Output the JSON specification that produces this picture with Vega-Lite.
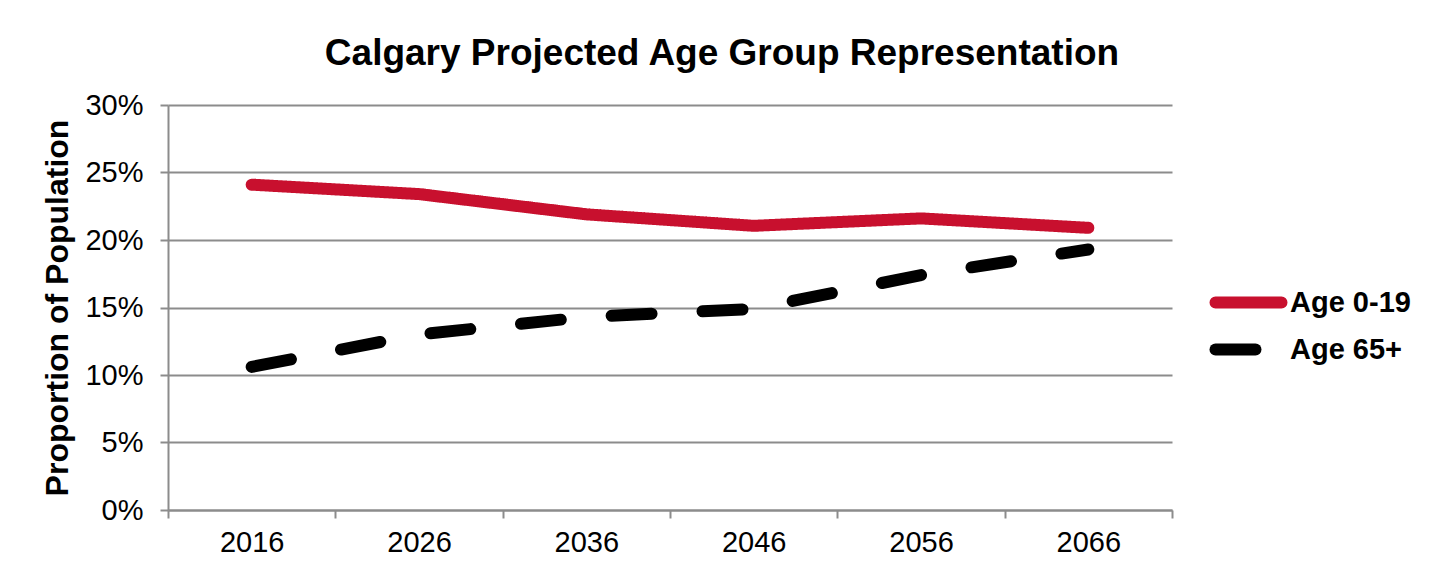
{
  "$schema": "https://vega.github.io/schema/vega-lite/v6.json",
  "width": 1004,
  "height": 405,
  "autosize": {"type": "none"},
  "padding": {"left": 168, "top": 105, "right": 271, "bottom": 61},
  "background": "white",
  "config": {"view": {"stroke": null}},
  "title": {
    "text": "Calgary Projected Age Group Representation",
    "font": "Liberation Sans",
    "fontSize": 37,
    "fontWeight": "bold",
    "color": "black",
    "anchor": "middle",
    "dx": 52,
    "offset": 18
  },
  "data": {
    "values": [
      {"year": "2016", "group": "Age 0-19", "share": 0.241},
      {"year": "2026", "group": "Age 0-19", "share": 0.234},
      {"year": "2036", "group": "Age 0-19", "share": 0.219},
      {"year": "2046", "group": "Age 0-19", "share": 0.2105},
      {"year": "2056", "group": "Age 0-19", "share": 0.216},
      {"year": "2066", "group": "Age 0-19", "share": 0.209},
      {"year": "2016", "group": "Age 65+", "share": 0.106},
      {"year": "2026", "group": "Age 65+", "share": 0.130},
      {"year": "2036", "group": "Age 65+", "share": 0.143},
      {"year": "2046", "group": "Age 65+", "share": 0.149},
      {"year": "2056", "group": "Age 65+", "share": 0.174},
      {"year": "2066", "group": "Age 65+", "share": 0.193}
    ]
  },
  "mark": {"type": "line", "strokeWidth": 12, "strokeCap": "round", "strokeJoin": "round"},
  "encoding": {
    "x": {
      "field": "year",
      "type": "ordinal",
      "bandPosition": 0.5,
      "scale": {"type": "band", "paddingInner": 0, "paddingOuter": 0},
      "axis": {
        "title": null,
        "labelAngle": 0,
        "tickBand": "extent",
        "grid": false,
        "domainColor": "#8c8c8c",
        "domainWidth": 2,
        "tickColor": "#8c8c8c",
        "tickWidth": 2,
        "tickSize": 8,
        "labelFont": "Liberation Sans",
        "labelFontSize": 29,
        "labelColor": "black",
        "labelPadding": 10
      }
    },
    "y": {
      "field": "share",
      "type": "quantitative",
      "scale": {"domain": [0, 0.3]},
      "axis": {
        "title": "Proportion of Population",
        "titleFont": "Liberation Sans",
        "titleFontSize": 32,
        "titleFontWeight": "bold",
        "titleColor": "black",
        "titlePadding": 10,
        "values": [0, 0.05, 0.1, 0.15, 0.2, 0.25, 0.3],
        "format": ".0%",
        "grid": true,
        "gridColor": "#8c8c8c",
        "gridWidth": 2,
        "domainColor": "#8c8c8c",
        "domainWidth": 2,
        "tickColor": "#8c8c8c",
        "tickWidth": 2,
        "tickSize": 8,
        "labelFont": "Liberation Sans",
        "labelFontSize": 29,
        "labelColor": "black",
        "labelPadding": 17
      }
    },
    "color": {
      "field": "group",
      "type": "nominal",
      "scale": {"domain": ["Age 0-19", "Age 65+"], "range": ["#C8102E", "#000000"]},
      "legend": {
        "title": null,
        "orient": "none",
        "legendX": 1058,
        "legendY": 175,
        "symbolType": "M-2,0H2",
        "symbolSize": 1089,
        "symbolStrokeWidth": 12,
        "labelFont": "Liberation Sans",
        "labelFontSize": 29,
        "labelFontWeight": "bold",
        "labelColor": "black",
        "labelOffset": 19,
        "rowPadding": -2,
        "padding": 0,
        "encode": {"symbols": {"update": {"strokeCap": {"value": "round"}}}}
      }
    },
    "strokeDash": {
      "field": "group",
      "type": "nominal",
      "scale": {"domain": ["Age 0-19", "Age 65+"], "range": [[1, 0], [40, 51]]},
      "legend": {
        "title": null,
        "orient": "none",
        "legendX": 1058,
        "legendY": 175,
        "symbolType": "M-2,0H2",
        "symbolSize": 1089,
        "symbolStrokeWidth": 12,
        "labelFont": "Liberation Sans",
        "labelFontSize": 29,
        "labelFontWeight": "bold",
        "labelColor": "black",
        "labelOffset": 19,
        "rowPadding": -2,
        "padding": 0,
        "encode": {"symbols": {"update": {"strokeCap": {"value": "round"}}}}
      }
    }
  }
}
